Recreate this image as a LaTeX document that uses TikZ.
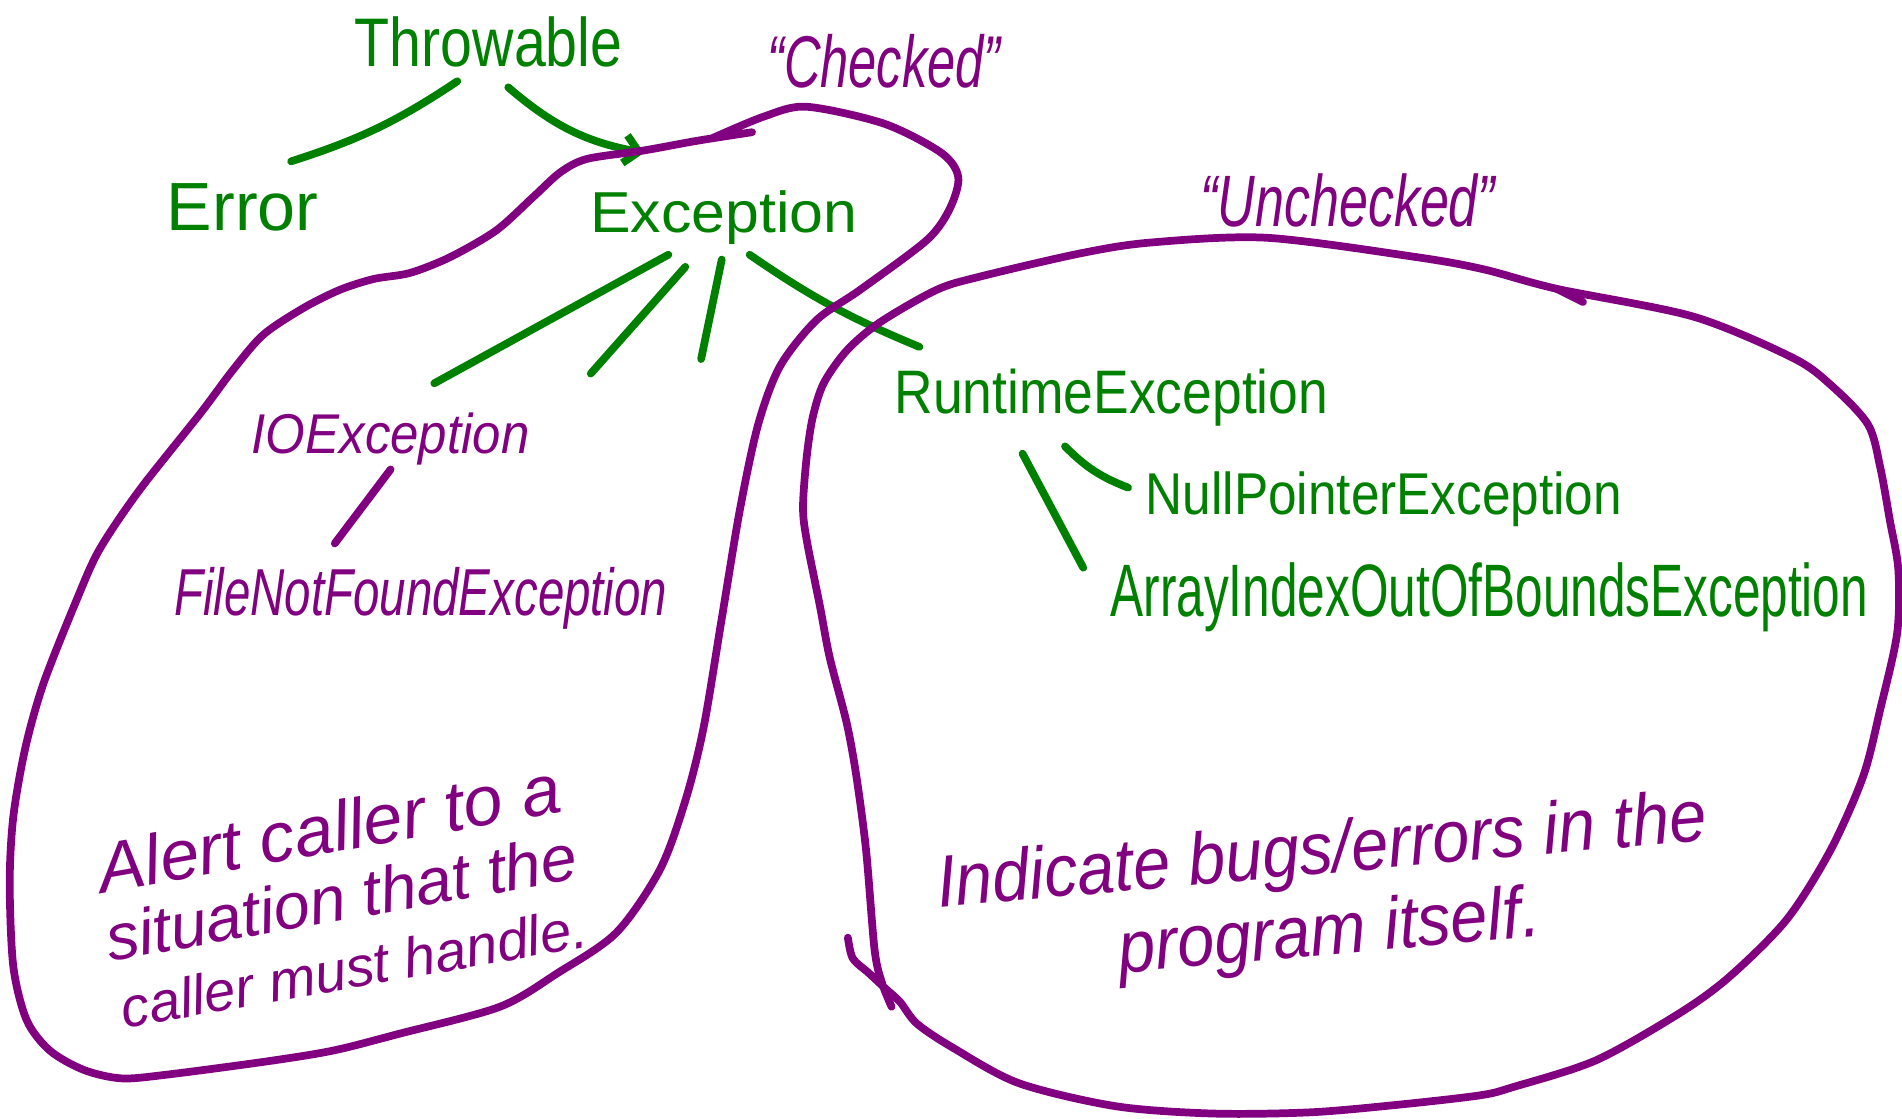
\documentclass[tikz,border=0pt]{standalone}
\usepackage{fontspec}
\setmainfont{Liberation Sans}
\usepackage{tikz}
\usetikzlibrary{arrows.meta,calc}
\definecolor{javagreen}{RGB}{0,128,0}
\definecolor{notepurple}{RGB}{128,0,128}
\newcommand{\fs}[1]{\fontsize{#1}{#1}\selectfont}

\begin{document}
\begin{tikzpicture}[
  x=0.01213cm, y=-0.01213cm,
  cls/.style={inner sep=0pt, anchor=base west, text=javagreen},
  chk/.style={inner sep=0pt, anchor=base west, text=notepurple},
  note/.style={inner sep=0pt, text=notepurple, align=center},
  link/.style={draw=javagreen, line width=2.2pt, line cap=round},
  plink/.style={link, draw=notepurple},
  blob/.style={draw=notepurple, line width=2.2pt, line cap=round, line join=round},
  >={Straight Barb[length=4pt,width=8pt]}
]
\useasboundingbox (0,0) rectangle (1568,922);

% class names -- placed by their baseline start
\node[cls, font=\fs{16.3}, yscale=1.2]  (throwable) at (292,55)  {Throwable};
\node[cls, font=\fs{19.4}]              (error)     at (137,190) {Error};
\node[cls, font=\fs{17.3}, yscale=0.95] (exception) at (486,192) {Exception};
\node[chk, font=\fs{14.5}\itshape, yscale=1.1] (ioexc) at (207,374) {IOException};
\node[chk, font=\fs{13.5}\itshape, yscale=1.4] (fnfe)  at (143,507) {FileNotFoundException};
\node[cls, font=\fs{15.2}, yscale=1.15] (runtime)   at (737,341) {RuntimeException};
\node[cls, font=\fs{14.6}, yscale=1.15] (npe)       at (944,424) {NullPointerException};
\node[cls, font=\fs{14.1}, yscale=1.5]  (aioobe)    at (915,508) {ArrayIndexOutOfBoundsException};

% group labels
\node[chk, font=\fs{14.4}\itshape, yscale=1.45] (checked)   at (632,72)  {“Checked”};
\node[chk, font=\fs{14.8}\itshape, yscale=1.4]  (unchecked) at (989,187) {“Unchecked”};

% the two notes, written at a slant
\node[note, font=\fontsize{20}{19.5}\selectfont\itshape, rotate=10] (alert) at (281,738)
  {Alert caller to a\\\fontsize{18.5}{19.5}\selectfont situation that the\\
   \fontsize{16}{19.5}\selectfont caller must handle.};
\node[note, font=\fontsize{19}{21}\selectfont\itshape, rotate=5, yscale=1.1] (indicate) at (1093,738)
  {Indicate bugs/errors in the\\program itself.};

% hierarchy strokes
\draw[link] ($(throwable.base west)+(85,12)$) to[bend left=8] ($(error.base west)+(103,-57)$);
\draw[link,->] ($(throwable.base west)+(127,17)$) to[bend right=15] ($(exception.base west)+(45,-66)$);
\draw[link] ($(exception.base west)+(65,18)$) -- ($(ioexc.base west)+(151,-58)$);
\coordinate (moreA) at (487,308);
\coordinate (moreB) at (578,296);
\draw[link] ($(exception.base west)+(79,28)$) -- (moreA);
\draw[link] ($(exception.base west)+(109,22)$) -- (moreB);
\draw[link] ($(exception.base west)+(132,18)$) to[bend right=6] ($(runtime.base west)+(21,-55)$);
\draw[plink] ($(ioexc.base west)+(115,13)$) -- ($(fnfe.base west)+(133,-59)$);
\draw[link] ($(runtime.base west)+(141,27)$) to[bend right=12] ($(npe.base west)+(-14,-22)$);
\draw[link] ($(runtime.base west)+(106,33)$) -- ($(aioobe.base west)+(-22,-40)$);

% checked region -- open stroke, its two ends overlap at the top
\draw[blob] plot[smooth, tension=0.5] coordinates {
  (620,109) (575,116) (531,124) (484,131) (462,142) (440,162) (409,190)
  (371,212) (338,225) (308,230) (280,239) (250,254) (217,276) (192,305)
  (165,341) (115,404) (82,453) (63,495) (36,563) (21,616) (11,673)
  (8,728) (11,797) (22,841) (41,866) (69,882) (100,889) (137,886)
  (220,875) (275,866) (330,852) (412,830) (460,802) (508,769) (544,717)
  (565,660) (580,600) (595,510) (610,420) (625,350) (643,302) (673,264)
  (709,239) (764,198) (783,172) (790,146) (776,126) (729,102) (665,88)
  (630,96) (587,114)};

% unchecked region -- starts with a small hook at the lower left
\draw[blob] plot[smooth, tension=0.5] coordinates {
  (699,773) (703,790) (716,802) (730,815) (742,826) (756,844) (786,864)
  (840,893) (920,912) (1000,918) (1080,917) (1150,911) (1220,903)
  (1248,896) (1316,874) (1385,835) (1426,805) (1473,758) (1509,701)
  (1536,640) (1550,585) (1564,522) (1565,470) (1558,429) (1550,385)
  (1540,350) (1510,318) (1478,295) (1396,261) (1283,238) (1223,222)
  (1168,212) (1044,196) (948,200) (890,209) (808,228) (772,239)
  (725,266) (698,289) (679,316) (670,344) (665,377) (662,418) (665,445)
  (676,500) (684,542) (698,596) (706,640) (714,701) (721,783) (727,810)
  (735,830)};
\draw[blob] (1283,238) -- (1305,249);
\end{tikzpicture}
\end{document}
